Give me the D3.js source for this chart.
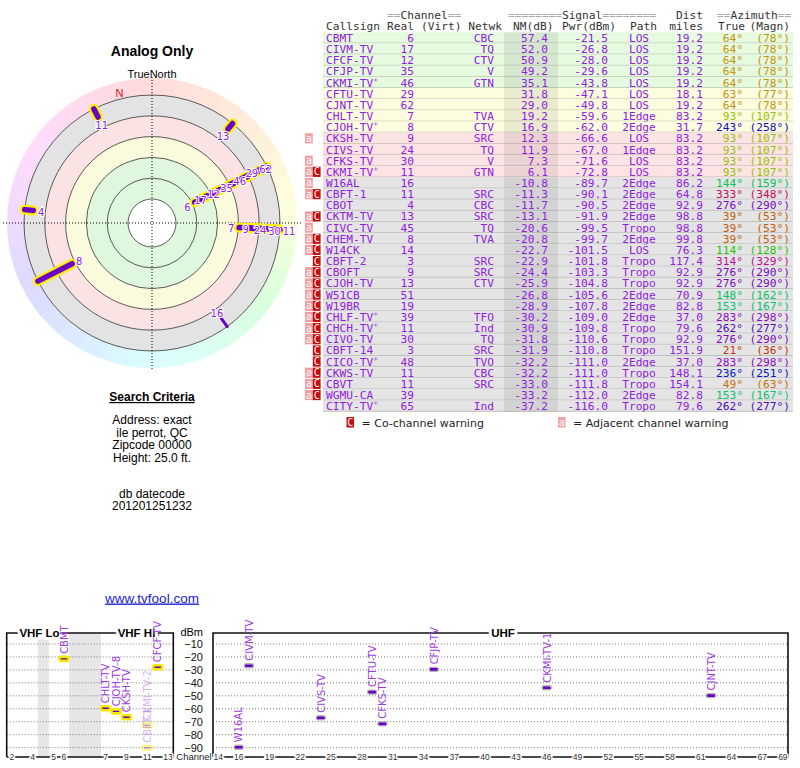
<!DOCTYPE html>
<html>
<head>
<meta charset="utf-8">
<script src="https://cdn.jsdelivr.net/npm/d3@7"></script>
<style>
body { margin: 0; background: #fff; }
svg { display: block; }
text { font-family: "Liberation Sans", Arial, sans-serif; }
.mono text { font-family: "DejaVu Sans Mono", monospace; font-size: 11.2px; }
</style>
</head>
<body>
<svg id="chart" width="800" height="768"></svg>
<script>
// station table, one entry per row
let callsigns = ["CBMT","CIVM-TV","CFCF-TV","CFJP-TV","CKMI-TV*","CFTU-TV","CJNT-TV","CHLT-TV","CJOH-TV*","CKSH-TV",
    "CIVS-TV","CFKS-TV","CKMI-TV*","W16AL","CBFT-1","CBOT","CKTM-TV","CIVC-TV","CHEM-TV","W14CK",
    "CBFT-2","CBOFT","CJOH-TV","W51CB","W19BR","CHLF-TV*","CHCH-TV*","CIVO-TV","CBFT-14","CICO-TV*",
    "CKWS-TV","CBVT","WGMU-CA","CITY-TV*"]
let plotNames = ["CBMT","CIVM-TV","CFCF-TV","CFJP-TV","CKMI-TV-1","CFTU-TV","CJNT-TV","CHLT-TV","CJOH-TV-8","CKSH-TV",
    "CIVS-TV","CFKS-TV","CKMI-TV-2","W16AL","CBFT-1","CBOT","CKTM-TV","CIVC-TV","CHEM-TV","W14CK",
    "CBFT-2","CBOFT","CJOH-TV","W51CB","W19BR","CHLF-TV","CHCH-TV","CIVO-TV","CBFT-14","CICO-TV",
    "CKWS-TV","CBVT","WGMU-CA","CITY-TV"]
let realCh = [6,17,12,35,46,29,62,7,8,9,24,30,11,16,11,4,13,45,8,14,3,9,13,51,19,39,11,30,3,48,11,11,39,65]
let networks = ["CBC","TQ","CTV","V","GTN","","","TVA","CTV","SRC","TQ","V","GTN","","SRC","CBC","SRC","TQ","TVA","",
    "SRC","SRC","CTV","","","TFO","Ind","TQ","SRC","TVO","CBC","SRC","","Ind"]
let nmDb = [57.4,52.0,50.9,49.2,35.1,31.8,29.0,19.2,16.9,12.3,11.9,7.3,6.1,-10.8,-11.3,-11.7,-13.1,-20.6,-20.8,-22.7,
    -22.9,-24.4,-25.9,-26.8,-28.9,-30.2,-30.9,-31.8,-31.9,-32.2,-32.2,-33.0,-33.2,-37.2]
let pwrDbm = [-21.5,-26.8,-28.0,-29.6,-43.8,-47.1,-49.8,-59.6,-62.0,-66.6,-67.0,-71.6,-72.8,-89.7,-90.1,-90.5,-91.9,-99.5,-99.7,-101.5,
    -101.8,-103.3,-104.8,-105.6,-107.8,-109.0,-109.8,-110.6,-110.8,-111.0,-111.0,-111.8,-112.0,-116.0]
let paths = ["LOS","LOS","LOS","LOS","LOS","LOS","LOS","1Edge","2Edge","LOS","1Edge","LOS","LOS","2Edge","2Edge","2Edge","2Edge","Tropo","2Edge","LOS",
    "Tropo","Tropo","Tropo","2Edge","2Edge","2Edge","Tropo","Tropo","Tropo","2Edge","Tropo","Tropo","2Edge","Tropo"]
let distMiles = [19.2,19.2,19.2,19.2,19.2,18.1,19.2,83.2,31.7,83.2,83.2,83.2,83.2,86.2,64.8,92.9,98.8,98.8,99.8,76.3,
    117.4,92.9,92.9,70.9,82.8,37.0,79.6,92.9,151.9,37.0,148.1,154.1,82.8,79.6]
let azTrue = [64,64,64,64,64,63,64,93,243,93,93,93,93,144,333,276,39,39,39,114,314,276,276,148,153,283,262,276,21,283,236,49,153,262]
let azMagn = [78,78,78,78,78,77,78,107,258,107,107,107,107,159,348,290,53,53,53,128,329,290,290,162,167,298,277,290,36,298,251,63,167,277]
let flags = ["","","","","","","","","","a","","a","aC","a","aC","","aC","a","aC","aC",
    "C","aC","aC","aC","aC","aC","aC","aC","C","C","aC","aC","aC",""]

// polar rings (NM dB) and spectrum axes
let ringTicks = [80, 60, 40, 20, 0, -20]
let bandEdges = [80, 40, 20, 0, -20]
let dbmTicks = [-10, -20, -30, -40, -50, -60, -70, -80, -90]
let vhfSlots = ["2","3","4","g1","5","6","g2","g3","g4","7","8","9","10","11","12","13"]
let vhfTicks = ["2","4","5","6","7","9","11","13"]
let uhfTicks = [14,16,19,22,25,28,31,34,37,40,43,46,49,52,55,58,61,64,67,69]
let criteria = ["Address: exact", "ile perrot, QC", "Zipcode 00000", "Height: 25.0 ft."]

let purple = "#9020e0"
let svg = d3.select("#chart")
let rows = d3.range(callsigns.length)

// azimuth -> colour
let hueMap = d3.scaleLinear().domain([0, 64, 93, 120, 360]).range([0, 45, 75, 120, 360])
let azColor = az => d3.hsl(hueMap(az), 0.9, 0.4).toString()

//----------------------- table -----------------------
let table = svg.append("g").attr("class", "mono")
let rowY = d3.scaleBand().domain(rows).range([32.3, 411.8])
let rowFill = i => nmDb[i] >= 35 ? "#e6fadf" : nmDb[i] >= 15 ? "#fcfcdf" : nmDb[i] >= 0 ? "#fde4e4" : "#e4e4e4"

let head = [
    {t: "==Channel==", x: 387, y: 19, a: "start"},
    {t: "========Signal========", x: 508, y: 19, a: "start"},
    {t: "Dist", x: 703, y: 19, a: "end"},
    {t: "==Azimuth==", x: 717, y: 19, a: "start"},
    {t: "Callsign", x: 326, y: 30, a: "start"},
    {t: "Real", x: 387, y: 30, a: "start"},
    {t: "(Virt)", x: 421, y: 30, a: "start"},
    {t: "Netwk", x: 502, y: 30, a: "end"},
    {t: "NM(dB)", x: 513, y: 30, a: "start"},
    {t: "Pwr(dBm)", x: 562, y: 30, a: "start"},
    {t: "Path", x: 630, y: 30, a: "start"},
    {t: "miles", x: 703, y: 30, a: "end"},
    {t: "True", x: 718, y: 30, a: "start"},
    {t: "(Magn)", x: 790, y: 30, a: "end"}
]
head.forEach(h => {
    let txt = table.append("text").attr("x", h.x).attr("y", h.y).attr("text-anchor", h.a)
    h.t.split(/(=+)/).filter(s => s.length).forEach(s => {
        txt.append("tspan").text(s).attr("fill", s[0] == "=" ? "#aaa" : "#333")
    })
})

let row = table.selectAll(".row").data(rows).enter().append("g")
    .attr("class", "row")
    .attr("transform", i => `translate(0,${rowY(i)})`)
let bh = rowY.bandwidth()

row.append("rect").attr("x", 323).attr("width", 470).attr("height", bh).attr("fill", rowFill)
row.append("rect").attr("x", 504).attr("width", 54).attr("height", bh).attr("fill", "rgba(0,0,0,0.07)")
row.append("line").attr("x1", 323).attr("x2", 793).attr("y1", bh - 0.5).attr("y2", bh - 0.5)
    .attr("stroke", "rgba(0,0,0,0.16)")

let ty = bh / 2 + 4
let cs = row.append("text").attr("x", 326).attr("y", ty).attr("fill", purple)
cs.append("tspan").text(i => callsigns[i].replace("*", ""))
cs.append("tspan").text(i => callsigns[i].includes("*") ? "*" : "")
    .attr("font-size", 8).attr("dy", -2).attr("fill", "#a070d0")

let cells = [
    {x: 414, a: "end", v: i => realCh[i]},
    {x: 494, a: "end", v: i => networks[i]},
    {x: 548, a: "end", v: i => nmDb[i].toFixed(1)},
    {x: 608, a: "end", v: i => pwrDbm[i].toFixed(1)},
    {x: 639, a: "middle", v: i => paths[i]},
    {x: 703, a: "end", v: i => distMiles[i].toFixed(1)}
]
cells.forEach(c => {
    row.append("text").attr("x", c.x).attr("y", ty).attr("text-anchor", c.a)
        .attr("fill", purple).text(c.v)
})
row.append("text").attr("x", 743).attr("y", ty).attr("text-anchor", "end")
    .attr("fill", i => azColor(azTrue[i])).text(i => azTrue[i] + "°")
row.append("text").attr("x", 790).attr("y", ty).attr("text-anchor", "end")
    .attr("fill", i => azColor(azTrue[i])).text(i => "(" + azMagn[i] + "°)")

// warning flags
let flagStyle = {a: {x: 305, fill: "#f3a0a0"}, C: {x: 312.8, fill: "#c40d0d"}}
rows.forEach(i => {
    flags[i].split("").forEach(f => {
        let g = table.append("g").attr("transform", `translate(${flagStyle[f].x},${rowY(i)})`)
        g.append("rect").attr("width", 7.8).attr("y", 0.5).attr("height", bh - 1).attr("fill", flagStyle[f].fill)
        g.append("text").attr("x", 3.9).attr("y", ty - 0.5).attr("text-anchor", "middle")
            .attr("fill", "#fff").style("font-size", "10px").text(f)
    })
})

// legend
let legend = [{f: "C", x: 346.5, t: "= Co-channel warning"}, {f: "a", x: 558, t: "= Adjacent channel warning"}]
legend.forEach(l => {
    let g = table.append("g").attr("transform", `translate(${l.x},417)`)
    g.append("rect").attr("width", 7.5).attr("height", 10.5).attr("fill", flagStyle[l.f].fill)
    g.append("text").attr("x", 3.75).attr("y", 9).attr("text-anchor", "middle")
        .attr("fill", "#fff").style("font-size", "10px").text(l.f)
    g.append("text").attr("x", 15).attr("y", 10).attr("fill", "#222")
        .style("font-family", "'DejaVu Sans', Verdana, sans-serif").style("font-size", "11px").text(l.t)
})

//----------------------- polar plot -----------------------
let cx = 152, cy = 223
let rScale = d3.scaleLinear().domain([80, -20]).range([24, 128])
let polar = svg.append("g").attr("transform", `translate(${cx},${cy})`)
let toRad = d => d * Math.PI / 180
let pt = (az, r) => [r * Math.sin(toRad(az)), -r * Math.cos(toRad(az))]

// outer colour wheel
let wedgeArc = d3.arc().innerRadius(rScale(-20)).outerRadius(145)
polar.selectAll(".wedge").data(d3.range(0, 360, 10)).enter().append("path")
    .attr("d", a => wedgeArc({startAngle: toRad(a), endAngle: toRad(a + 10.3)}))
    .attr("fill", a => d3.hsl(hueMap(a + 5), 1, 0.93).toString())

// signal bands
let bandColors = ["#dff7dc", "#fafadc", "#fce3e3", "#e3e3e3"]
let bandArc = d3.arc().startAngle(0).endAngle(2 * Math.PI)
d3.pairs(bandEdges).forEach((p, k) => {
    polar.append("path").attr("fill", bandColors[k])
        .attr("d", bandArc({innerRadius: rScale(p[0]), outerRadius: rScale(p[1])}))
})
polar.append("circle").attr("r", rScale(80)).attr("fill", "#fff")
polar.selectAll(".ring").data(ringTicks).enter().append("circle")
    .attr("r", d => rScale(d)).attr("fill", "none").attr("stroke", "#333").attr("stroke-width", 0.8)

// crosshair
polar.append("line").attr("x1", 0).attr("x2", 0).attr("y1", -146).attr("y2", 146)
    .attr("stroke", "#000").attr("stroke-dasharray", "1,2")
polar.append("line").attr("y1", 0).attr("y2", 0).attr("x1", -149).attr("x2", 149)
    .attr("stroke", "#000").attr("stroke-dasharray", "1,2")

// station bars
let polarIdx = rows.filter(i => nmDb[i] > -15)
let isVhf = i => realCh[i] <= 13
let barLine = i => {
    let a = pt(azTrue[i], rScale(nmDb[i])), b = pt(azTrue[i], rScale(-20))
    return `M${a[0]},${a[1]}L${b[0]},${b[1]}`
}
polar.selectAll(".glow").data(polarIdx.filter(isVhf)).enter().append("path")
    .attr("d", barLine).attr("stroke", "#ffee00").attr("stroke-width", 10).attr("stroke-linecap", "round")
polar.selectAll(".bar").data(polarIdx).enter().append("path")
    .attr("d", barLine).attr("stroke", "#6a00c8").attr("stroke-width", i => isVhf(i) ? 5.5 : 3)
    .attr("stroke-linecap", "round")

// labels, spread along each direction
let labelR = {}
d3.group(polarIdx, i => Math.round(azTrue[i] / 5)).forEach(list => {
    list.sort((a, b) => nmDb[b] - nmDb[a])
    let prev = -Infinity
    list.forEach(i => {
        labelR[i] = Math.max(rScale(nmDb[i]) - 8, prev + 14.5)
        prev = labelR[i]
    })
})
polar.selectAll(".lbl").data(polarIdx).enter().append("text")
    .attr("x", i => pt(azTrue[i], labelR[i])[0])
    .attr("y", i => pt(azTrue[i], labelR[i])[1] + 1.5)
    .attr("dy", "0.36em").attr("text-anchor", "middle")
    .style("font-family", "'DejaVu Sans', sans-serif").style("font-size", "10px")
    .attr("fill", purple).attr("stroke", "#fff").attr("stroke-width", 2.2).attr("paint-order", "stroke")
    .text(i => realCh[i])

// magnetic north
let decl = azMagn[0] - azTrue[0]
let nPos = pt(-decl, 134)
polar.append("text").attr("x", nPos[0]).attr("y", nPos[1]).attr("dy", "0.36em")
    .attr("text-anchor", "middle").attr("fill", "#e01010").style("font-size", "11px").text("N")

svg.append("text").attr("x", cx).attr("y", 56).attr("text-anchor", "middle")
    .style("font-size", "14px").style("font-weight", "bold").text("Analog Only")
svg.append("text").attr("x", cx).attr("y", 78).attr("text-anchor", "middle")
    .style("font-size", "11px").text("TrueNorth")

//----------------------- search criteria -----------------------
svg.append("text").attr("x", cx).attr("y", 401).attr("text-anchor", "middle")
    .style("font-size", "12px").style("font-weight", "bold").style("text-decoration", "underline")
    .text("Search Criteria")
criteria.forEach((t, k) => {
    svg.append("text").attr("x", cx).attr("y", 424 + k * 12.5).attr("text-anchor", "middle")
        .style("font-size", "12px").text(t)
})
svg.append("text").attr("x", cx).attr("y", 498).attr("text-anchor", "middle").style("font-size", "12px").text("db datecode")
svg.append("text").attr("x", cx).attr("y", 510).attr("text-anchor", "middle").style("font-size", "12px").text("201201251232")
svg.append("text").attr("x", cx).attr("y", 602.5).attr("text-anchor", "middle")
    .style("font-size", "13.5px").style("text-decoration", "underline").attr("fill", "#1a1acc").text("www.tvfool.com")

//----------------------- spectrum chart -----------------------
let frameTop = 633, frameBottom = 757
let yScale = d3.scaleLinear().domain([0, -100]).range([631, 760.6])
let xVhf = d3.scaleBand().domain(vhfSlots).range([6.7, 173.3])
let xUhf = d3.scaleBand().domain(d3.range(14, 70)).range([213, 788])
let spec = svg.append("g")

// gaps in the VHF band
spec.selectAll(".gap").data(vhfSlots.filter(s => s[0] == "g")).enter().append("rect")
    .attr("x", s => xVhf(s)).attr("width", xVhf.bandwidth() + 0.5)
    .attr("y", frameTop).attr("height", frameBottom - frameTop).attr("fill", "#e6e6e6")

let frames = [[6.7, 173.3], [213, 788]]
frames.forEach(f => {
    spec.selectAll(null).data(dbmTicks).enter().append("line")
        .attr("x1", f[0]).attr("x2", f[1]).attr("y1", d => yScale(d)).attr("y2", d => yScale(d))
        .attr("stroke", "#777").attr("stroke-dasharray", "1,2")
    spec.append("path").attr("d", `M${f[0]},${frameBottom}V${frameTop}H${f[1]}V${frameBottom}H${f[0]}`)
        .attr("fill", "none").attr("stroke", "#111").attr("stroke-width", 1.6)
})

let haloText = (x, y, t, size, bold) => spec.append("text").attr("x", x).attr("y", y).attr("dy", "0.36em")
    .attr("text-anchor", "middle").style("font-size", size).style("font-weight", bold ? "bold" : "normal")
    .attr("stroke", "#fff").attr("stroke-width", 6).attr("paint-order", "stroke").text(t)
haloText(39.5, frameTop, "VHF Lo", "11.5px", true)
haloText(136.5, frameTop, "VHF Hi", "11.5px", true)
haloText(503, frameTop, "UHF", "11.5px", true)

// dBm axis
let yAxis = spec.append("g").attr("transform", "translate(203,0)")
    .call(d3.axisLeft(yScale).tickValues(dbmTicks).tickSize(0).tickPadding(0))
yAxis.select(".domain").remove()
yAxis.selectAll("text").style("font-size", "11px").style("font-family", "'Liberation Sans', Arial, sans-serif").attr("fill", "#111")
spec.append("text").attr("x", 203).attr("y", 636).attr("text-anchor", "end").style("font-size", "11px").text("dBm")

// channel axes
let chanAxis = (scale, ticks) => {
    let g = spec.append("g").attr("transform", `translate(0,${frameBottom})`)
        .call(d3.axisBottom(scale).tickValues(ticks).tickSize(0).tickPadding(0))
    g.select(".domain").remove()
    g.selectAll("text").attr("y", 0).attr("dy", "0.36em").attr("fill", "#333")
        .style("font-size", "8.5px").style("font-family", "'Liberation Sans', Arial, sans-serif")
        .attr("stroke", "#fff").attr("stroke-width", 3).attr("paint-order", "stroke")
}
chanAxis(xVhf, vhfTicks)
chanAxis(xUhf, uhfTicks)
spec.append("text").attr("x", 194).attr("y", frameBottom).attr("dy", "0.36em").attr("text-anchor", "middle")
    .style("font-size", "9.5px").attr("fill", "#222").text("Channel")

// station marks
let specIdx = rows.filter(i => pwrDbm[i] > -90.3)
let chanX = i => isVhf(i) ? xVhf(String(realCh[i])) + xVhf.bandwidth() / 2 : xUhf(realCh[i]) + xUhf.bandwidth() / 2
let mark = spec.selectAll(".mark").data(specIdx).enter().append("g")
    .attr("opacity", i => flags[i].includes("C") ? 0.4 : 1)
mark.append("rect")
    .attr("x", i => chanX(i) - 4.5).attr("y", i => yScale(pwrDbm[i]) - 2)
    .attr("width", 9).attr("height", 4).attr("rx", 1.5)
    .attr("fill", "#6a00c8")
    .attr("stroke", i => isVhf(i) ? "#f5e800" : "#b5b5b5")
    .attr("stroke-width", i => isVhf(i) ? 2.6 : 1.3)
mark.append("text")
    .attr("transform", i => `translate(${chanX(i) + 3.8},${yScale(pwrDbm[i]) - 5}) rotate(-90)`)
    .style("font-family", "'DejaVu Sans', sans-serif").style("font-size", "10px")
    .attr("fill", "#9b3be0").text(i => plotNames[i])
</script>
</body>
</html>
